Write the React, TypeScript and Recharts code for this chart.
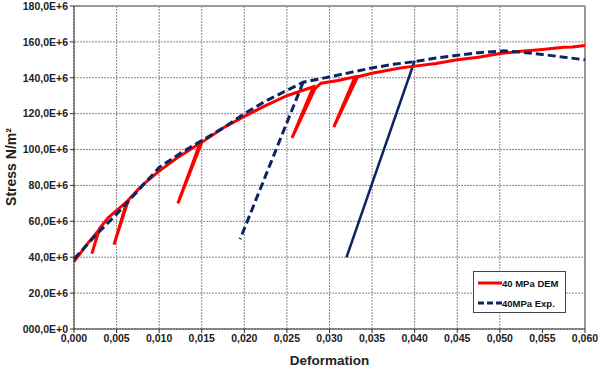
import React from "react";
import {
  LineChart,
  Line,
  XAxis,
  YAxis,
  CartesianGrid,
  ReferenceLine,
  Label,
} from "recharts";

// deformation / stress (in 1E+6 N/m²)
const demStrain = [
  0, 0.0015, 0.0029, 0.0021, 0.003, 0.004, 0.0055, 0.0062, 0.0047, 0.0064,
  0.008, 0.01, 0.012, 0.0148, 0.0122, 0.015, 0.0175, 0.02, 0.0225, 0.025,
  0.0281, 0.0256, 0.0283, 0.029, 0.031, 0.033, 0.0305, 0.0333, 0.035, 0.0383,
  0.04, 0.0425, 0.045, 0.0475, 0.05, 0.0525, 0.055, 0.0575, 0.0585, 0.06,
];
const demStress = [
  37.5, 47, 55, 42, 56, 62, 68, 71, 47, 72, 80, 88, 95, 103.5, 70, 104, 112,
  118.5, 124.5, 130, 135, 106.5, 134, 137, 138.5, 140.5, 112.5, 140.5, 142.5,
  145.5, 146.5, 148, 150, 151.5, 153.5, 154.8, 155.8, 157, 157.2, 158,
];

const expStrain = [
  0, 0.0025, 0.005, 0.0075, 0.01, 0.0125, 0.015, 0.0175, 0.02, 0.0225, 0.025,
  0.0269, 0.03, 0.0325, 0.035, 0.0375, 0.04, 0.0425, 0.045, 0.0475, 0.0505,
  0.0525, 0.055, 0.0575, 0.06,
];
const expStress = [
  39, 52, 64, 77, 90, 98, 105, 112, 120, 127, 133, 137.5, 140.5, 143, 145.5,
  147.5, 149, 151, 152.5, 154, 155, 154.3, 153, 151.5, 150,
];

const expUnloadStrain = [0.0269, 0.0195];
const expUnloadStress = [137.5, 50];

const expSolidStrain = [0.032, 0.04];
const expSolidStress = [40, 149.5];

const xTicks = [
  0, 0.005, 0.01, 0.015, 0.02, 0.025, 0.03, 0.035, 0.04, 0.045, 0.05, 0.055,
  0.06,
];
const yTicks = [0, 20, 40, 60, 80, 100, 120, 140, 160, 180].map((v) => v * 1e6);

const toPoints = (xs: number[], ys: number[]) =>
  xs.map((x, i) => ({ x, y: ys[i] * 1e6 }));

const RED = "#ff0000";
const NAVY = "#0b2462";
const FONT = "'Liberation Sans', Arial, sans-serif";

const fmtX = (v: number) => v.toFixed(3).replace(".", ",");
const fmtY = (v: number) =>
  v === 0 ? "000,0E+0" : (v / 1e6).toFixed(1).replace(".", ",") + "E+6";

function LegendBox() {
  const row = {
    display: "flex",
    alignItems: "center",
    height: 20,
    paddingLeft: 4,
    whiteSpace: "nowrap" as const,
  };
  return (
    <div
      style={{
        position: "absolute",
        left: 473,
        top: 271,
        width: 93,
        height: 42,
        border: "1px solid #444",
        background: "#fff",
        fontFamily: FONT,
        fontWeight: "bold",
        fontSize: 9.5,
        color: "#111",
        boxSizing: "border-box",
        paddingTop: 1,
      }}
    >
      <div style={row}>
        <svg width={24} height={6}>
          <line x1={0} y1={3} x2={24} y2={3} stroke={RED} strokeWidth={3} />
        </svg>
        <span>40 MPa DEM</span>
      </div>
      <div style={row}>
        <svg width={24} height={6}>
          <line
            x1={0}
            y1={3}
            x2={24}
            y2={3}
            stroke={NAVY}
            strokeWidth={3}
            strokeDasharray="6 3"
          />
        </svg>
        <span>40MPa Exp.</span>
      </div>
    </div>
  );
}

export default function App() {
  const tickStyle = {
    fontFamily: FONT,
    fontWeight: "bold",
    fontSize: 10.5,
    fill: "#222",
  };
  return (
    <div
      style={{
        position: "absolute",
        left: 0,
        top: 0,
        width: 600,
        height: 369,
        background: "#fff",
      }}
    >
      <LineChart
        width={600}
        height={369}
        margin={{ top: 6, right: 15, bottom: 0, left: 0 }}
      >
        <CartesianGrid stroke="#888" strokeDasharray="2 1" strokeWidth={1} />
        <XAxis
          type="number"
          dataKey="x"
          domain={[0, 0.06]}
          ticks={xTicks}
          tickFormatter={fmtX}
          height={40}
          stroke="#333"
          tickSize={4}
          tick={tickStyle}
          allowDuplicatedCategory={false}
        >
          <Label
            value="Deformation"
            position="insideBottom"
            offset={4}
            style={{ fontFamily: FONT, fontWeight: "bold", fontSize: 13.5, fill: "#222" }}
          />
        </XAxis>
        <YAxis
          type="number"
          dataKey="y"
          domain={[0, 180e6]}
          ticks={yTicks}
          tickFormatter={fmtY}
          width={74}
          stroke="#333"
          tickSize={4}
          tick={tickStyle}
        >
          <Label
            content={() => (
              <text
                x={12}
                y={167}
                transform="rotate(-90 12 167)"
                textAnchor="middle"
                dominantBaseline="middle"
                style={{ fontFamily: FONT, fontWeight: "bold", fontSize: 14, fill: "#222" }}
              >
                Stress N/m²
              </text>
            )}
          />
        </YAxis>
        <ReferenceLine y={180e6} stroke="#999" strokeWidth={2} />
        <ReferenceLine x={0.06} stroke="#999" strokeWidth={2} />
        <Line
          data={toPoints(expSolidStrain, expSolidStress)}
          dataKey="y"
          type="linear"
          stroke={NAVY}
          strokeWidth={2.5}
          dot={false}
          isAnimationActive={false}
        />
        <Line
          data={toPoints(demStrain, demStress)}
          dataKey="y"
          name="40 MPa DEM"
          type="linear"
          stroke={RED}
          strokeWidth={3}
          dot={false}
          isAnimationActive={false}
        />
        <Line
          data={toPoints(expStrain, expStress)}
          dataKey="y"
          name="40MPa Exp."
          type="linear"
          stroke={NAVY}
          strokeWidth={3}
          strokeDasharray="8 4"
          dot={false}
          isAnimationActive={false}
        />
        <Line
          data={toPoints(expUnloadStrain, expUnloadStress)}
          dataKey="y"
          type="linear"
          stroke={NAVY}
          strokeWidth={3}
          strokeDasharray="8 4"
          dot={false}
          isAnimationActive={false}
        />
      </LineChart>
      <LegendBox />
    </div>
  );
}
